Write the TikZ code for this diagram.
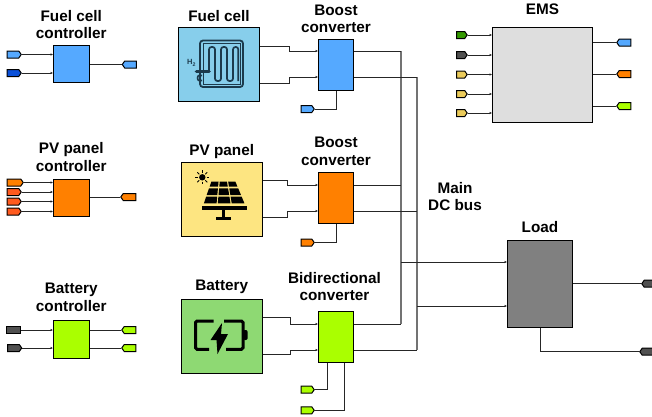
\documentclass[tikz,border=0pt]{standalone}
\usepackage{fontspec}
\setmainfont{Liberation Sans}
\usetikzlibrary{arrows.meta, positioning, shapes.symbols}

\definecolor{fcblue}{HTML}{55A9FF}
\definecolor{sigblue}{HTML}{0A50D8}
\definecolor{pvorange}{HTML}{FF8000}
\definecolor{sigred}{HTML}{FF5A1E}
\definecolor{batlime}{HTML}{AAFF00}
\definecolor{darkgrey}{HTML}{505050}
\definecolor{loadgrey}{HTML}{808080}
\definecolor{emsgrey}{HTML}{DEDEDE}
\definecolor{siggreen}{HTML}{339900}
\definecolor{sigyellow}{HTML}{EBCB5A}
\definecolor{fcsky}{HTML}{87CEEB}
\definecolor{pvyellow}{HTML}{FDE581}
\definecolor{batgreen}{HTML}{8ED973}
\definecolor{icondark}{HTML}{1C3A4C}

\tikzset{
  block/.style={draw, line width=1pt, inner sep=0pt, anchor=north west},
  title/.style={font=\fontsize{15.3}{17}\selectfont\bfseries, align=center, inner sep=0pt},
  tagin/.style={draw, line width=1pt, signal, signal to=east, signal pointer angle=110,
    inner sep=0pt, minimum width=14pt, minimum height=7pt},
  tagout/.style={draw, line width=1pt, signal, signal to=west, signal pointer angle=110,
    inner sep=0pt, minimum width=14pt, minimum height=7pt},
  wire/.style={line width=0.9pt, black!85},
  bus/.style={line width=1.3pt, black!55},
  probe/.style={wire, -{Latex[length=2.5pt,width=2.5pt]}}
}

\begin{document}
\begin{tikzpicture}[x=1pt,y=-1pt]
  \useasboundingbox (0,0) rectangle (652,416);

  % Fuel cell controller
  \node[block, fill=fcblue, minimum width=35.5pt, minimum height=37pt] (fcctrl) at (53,45) {};
  \node[title, above=6pt of fcctrl] (fcctrltitle) {Fuel cell\\controller};
  \node[tagin, fill=fcblue] (fcin1) at (13,54.5) {};
  \node[tagin, fill=sigblue] (fcin2) at (13,73) {};
  \node[tagout, fill=fcblue] (fcout) at (130.5,64.5) {};
  \draw[probe] (fcin1.east) -- (fcin1.east -| fcctrl.west);
  \draw[probe] (fcin2.east) -- (fcin2.east -| fcctrl.west);
  \draw[wire] (fcctrl.east |- fcout.west) -- (fcout.west);

  % PV panel controller
  \node[block, fill=pvorange, minimum width=35.5pt, minimum height=37.5pt] (pvctrl) at (53,178.5) {};
  \node[title, above=7pt of pvctrl] (pvctrltitle) {PV panel\\[1pt]controller};
  \node[tagin, fill=pvorange, minimum width=16pt] (pvin1) at (14,182.5) {};
  \foreach \i/\y in {2/192,3/201.5,4/211.5}
    \node[tagin, fill=sigred] (pvin\i) at (13,\y) {};
  \foreach \i in {1,2,3,4}
    \draw[probe] (pvin\i.east) -- (pvin\i.east -| pvctrl.west);
  \node[tagout, fill=pvorange, minimum width=15pt] (pvout) at (129.5,197) {};
  \draw[wire] (pvctrl.east |- pvout.west) -- (pvout.west);

  % Battery controller
  \node[block, fill=batlime, minimum width=35.5pt, minimum height=38pt] (batctrl) at (53,320) {};
  \node[title, above=8pt of batctrl] (batctrltitle) {Battery\\[1pt]controller};
  \node[tagin, fill=darkgrey, signal to=nowhere] (batin1) at (13.5,330) {};
  \node[tagin, fill=darkgrey] (batin2) at (13.5,348) {};
  \node[tagout, fill=batlime] (batout1) at (130,330) {};
  \node[tagout, fill=batlime] (batout2) at (130,348) {};
  \foreach \i in {1,2} {
    \draw[probe] (batin\i.east) -- (batin\i.east -| batctrl.west);
    \draw[wire] (batctrl.east |- batout\i.west) -- (batout\i.west);
  }

  % Fuel cell
  \node[block, fill=fcsky, minimum width=81pt, minimum height=74pt] (fc) at (178,27) {};
  \node[title, above=5pt of fc] (fctitle) {Fuel cell};
  \draw[icondark, line width=1.8pt, rounded corners=3pt] (200,40.5) rectangle (243,87); % casing
  \draw[icondark, line width=0.9pt] (203,43.5) rectangle (240,84); % inner frame
  \draw[icondark, line width=1.7pt, rounded corners=2.4pt] (209,72) -- (209,47) -- (215,47) -- (215,81)
    -- (221,81) -- (221,47) -- (227,47) -- (227,81) -- (233,81) -- (233,47) -- (238.3,47) -- (238.3,81); % channel
  \draw[icondark, line width=3.6pt, line cap=round] (196.5,71.5) -- (209,71.5); % inlet
  \draw[icondark, line width=1.6pt] (202,75.5) -- (199,75.5) to[out=180, in=180] (199,80.5) -- (202,80.5); % outlet
  \node[font=\fontsize{7.5}{8}\selectfont\bfseries, text=icondark, inner sep=0pt] (htwo) at (191.5,63) {H\textsubscript{2}};

  % PV panel
  \node[block, fill=pvyellow, minimum width=80.5pt, minimum height=73.5pt] (pv) at (181,162) {};
  \node[title, above=3pt of pv] (pvtitle) {PV panel};
  \fill (202.3,177.3) circle (3.2pt); % sun
  \foreach \a in {0,45,...,315}
    \draw[line width=0.9pt] (202.3,177.3) ++(\a:4.3pt) -- ++(\a:2.7pt);
  \foreach \ya/\yb/\ta/\tb in {181.7/186.7/0/0.23,188.3/195/0.31/0.62,196.7/203.3/0.70/1} {
    \foreach \c in {0,1,2} {
      \fill ({210.7-7.4*\ta+(25.3+16.4*\ta)*\c/3+0.6},\ya) -- ({210.7-7.4*\ta+(25.3+16.4*\ta)*(\c+1)/3-0.6},\ya)
        -- ({210.7-7.4*\tb+(25.3+16.4*\tb)*(\c+1)/3-0.6},\yb) -- ({210.7-7.4*\tb+(25.3+16.4*\tb)*\c/3+0.6},\yb) -- cycle;
    }
  }
  \fill (201.7,206) rectangle (246.7,210); % frame
  \fill (222,210) rectangle (225,217); % post
  \fill (216,216.7) rectangle (230.7,219.7); % foot

  % Battery
  \node[block, fill=batgreen, minimum width=80.5pt, minimum height=73.5pt] (bat) at (181,299) {};
  \node[title, above=5pt of bat] (battitle) {Battery};
  \draw[line width=3pt, rounded corners=1.5pt] (213.5,321) -- (195.5,321) -- (195.5,349.3) -- (209,349.3); % body left
  \draw[line width=3pt, rounded corners=1.5pt] (224,321) -- (243,321) -- (243,349.3) -- (226,349.3); % body right
  \fill[rounded corners=2pt] (243,330) -- (247.7,330) -- (247.7,340) -- (243,340) -- cycle; % terminal
  \fill (222,323) -- (210.5,340) -- (216.5,340) -- (217.5,354) -- (228,334) -- (221,334) -- cycle; % bolt

  % Boost converter of the fuel cell
  \node[block, fill=fcblue, minimum width=35pt, minimum height=50.5pt] (bcfc) at (318,39) {};
  \node[title, above=6pt of bcfc] (bcfctitle) {Boost\\converter};
  \node[tagin, fill=fcblue, minimum width=13pt] (bcfcin) at (306.5,109) {};
  \draw[probe] (fc.east |- 0,46.5) -- (289,46.5) |- (bcfc.west |- 0,51);
  \draw[probe] (fc.east |- 0,83) -- (289,83) |- (bcfc.west |- 0,77);
  \draw[wire] (bcfcin.east) -| (bcfc.south);

  % Boost converter of the PV panel
  \node[block, fill=pvorange, minimum width=35pt, minimum height=51pt] (bcpv) at (318,172) {};
  \node[title, above=6pt of bcpv] (bcpvtitle) {Boost\\[1pt]converter};
  \node[tagin, fill=pvorange, minimum width=13pt] (bcpvin) at (306.5,242.5) {};
  \draw[probe] (pv.east |- 0,180.5) -- (287,180.5) |- (bcpv.west |- 0,185);
  \draw[probe] (pv.east |- 0,217) -- (287,217) |- (bcpv.west |- 0,211);
  \draw[wire] (bcpvin.east) -| (bcpv.south);

  % Bidirectional converter
  \node[block, fill=batlime, minimum width=35pt, minimum height=51pt] (bd) at (318,311) {};
  \node[title, above=10pt of bd, xshift=-1.5pt] (bdtitle) {Bidirectional\\converter};
  \node[tagin, fill=batlime, minimum width=13pt] (bdin1) at (306.5,389.7) {};
  \node[tagin, fill=batlime, minimum width=13pt] (bdin2) at (306.5,410.3) {};
  \draw[probe] (bat.east |- 0,317.5) -- (290,317.5) |- (bd.west |- 0,324);
  \draw[probe] (bat.east |- 0,354.5) -- (290,354.5) |- (bd.west |- 0,350);
  \draw[wire] (bdin1.east) -| (bd.south -| 327,0);
  \draw[wire] (bdin2.east) -| (bd.south -| 344,0);

  % Main DC bus
  \coordinate (busatop) at (401,51);
  \coordinate (busbtop) at (417,77);
  \coordinate (busapv) at (401,185);
  \coordinate (busbpv) at (417,211);
  \coordinate (busaload) at (401,262);
  \coordinate (busbload) at (417,306);
  \coordinate (busabot) at (401,324);
  \coordinate (busbbot) at (417,350);
  \node[title] (bustitle) at (455,196.5) {Main\\DC bus};
  \draw[bus] (busatop) -- (busabot);
  \draw[bus] (busbtop) -- (busbbot);
  \draw[wire] (bcfc.east |- busatop) -- (busatop);
  \draw[wire] (bcfc.east |- busbtop) -- (busbtop);
  \draw[wire] (bcpv.east |- busapv) -- (busapv);
  \draw[wire] (bcpv.east |- busbpv) -- (busbpv);
  \draw[wire] (bd.east |- busabot) -- (busabot);
  \draw[wire] (bd.east |- busbbot) -- (busbbot);

  % Load
  \node[block, fill=loadgrey, minimum width=65pt, minimum height=87.5pt] (load) at (507,239.5) {};
  \node[title, above=7pt of load] (loadtitle) {Load};
  \node[tagout, fill=darkgrey] (loadout1) at (650,283.7) {};
  \node[tagout, fill=darkgrey] (loadout2) at (648,351.7) {};
  \draw[probe] (busaload) -- (busaload -| load.west);
  \draw[probe] (busbload) -- (busbload -| load.west);
  \draw[wire] (load.east |- loadout1.west) -- (loadout1.west);
  \draw[wire] (load.south) |- (loadout2.west);

  % EMS
  \node[block, fill=emsgrey, minimum width=100pt, minimum height=95.5pt] (ems) at (492,26.5) {};
  \node[title, above=12pt of ems] (emstitle) {EMS};
  \foreach \i/\y/\c in {1/35/siggreen,2/55/darkgrey,3/74.5/sigyellow,4/94/sigyellow,5/113/sigyellow} {
    \node[tagin, fill=\c, minimum width=10.5pt] (emsin\i) at (460.7,\y) {};
    \draw[probe] (emsin\i.east) -- (emsin\i.east -| ems.west);
  }
  \foreach \i/\y/\c in {1/42.5/fcblue,2/74/pvorange,3/106/batlime} {
    \node[tagout, fill=\c] (emsout\i) at (625,\y) {};
    \draw[wire] (ems.east |- emsout\i.west) -- (emsout\i.west);
  }
\end{tikzpicture}
\end{document}
